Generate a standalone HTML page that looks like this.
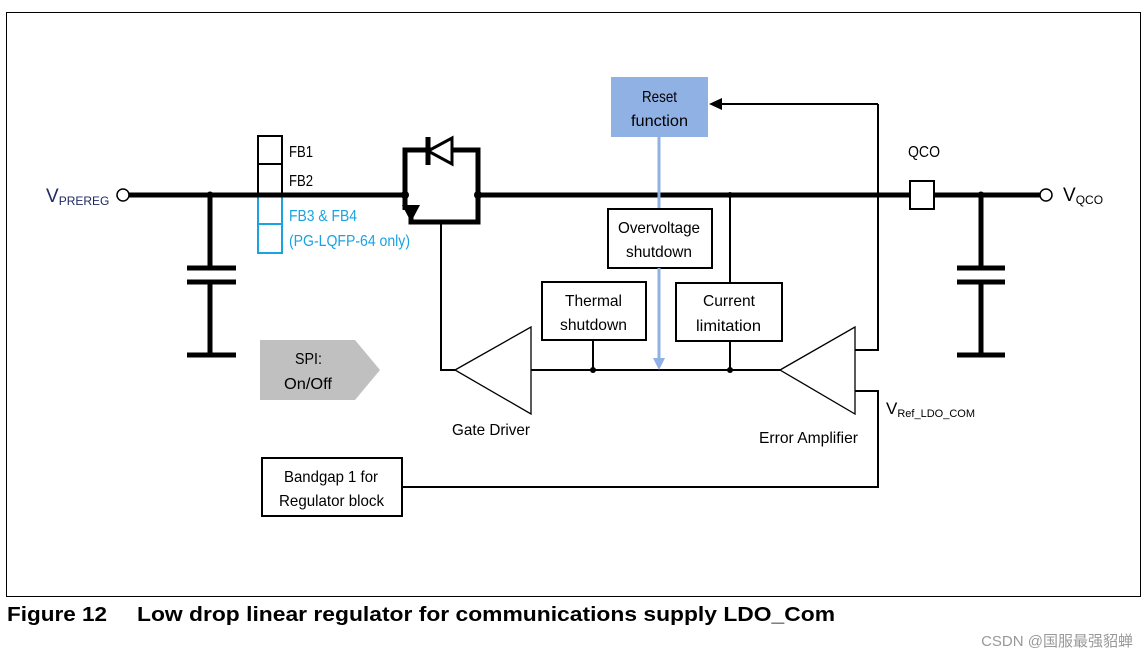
<!DOCTYPE html>
<html><head><meta charset="utf-8"><style>
body{margin:0;background:#fff;}
svg text{font-family:"Liberation Sans",sans-serif;font-size:16px;fill:#000;}
</style></head><body>
<svg width="1148" height="660" viewBox="0 0 1148 660" xmlns="http://www.w3.org/2000/svg">
<rect x="6.5" y="12.5" width="1134" height="584" fill="none" stroke="#000" stroke-width="1"/>
<g stroke="#000" stroke-width="5" fill="none" stroke-linecap="butt">
<line x1="129" y1="195" x2="405" y2="195"/>
<line x1="478" y1="195" x2="910" y2="195"/>
<line x1="934" y1="195" x2="1040" y2="195"/>
<line x1="210" y1="195" x2="210" y2="268"/>
<line x1="187" y1="268" x2="236" y2="268"/>
<line x1="187" y1="282" x2="236" y2="282"/>
<line x1="210" y1="282" x2="210" y2="355"/>
<line x1="187" y1="355" x2="236" y2="355"/>
<line x1="981" y1="195" x2="981" y2="268"/>
<line x1="957" y1="268" x2="1005" y2="268"/>
<line x1="957" y1="282" x2="1005" y2="282"/>
<line x1="981" y1="282" x2="981" y2="355"/>
<line x1="957" y1="355" x2="1005" y2="355"/>
<polyline points="405,195 405,150 478,150 478,195"/>
<polyline points="411,210 411,222 478,222 478,195"/>
<line x1="405" y1="195" x2="405" y2="210"/>
<line x1="428" y1="137" x2="428" y2="165"/>
</g>
<polygon points="402,205 420,205 411,222" fill="#000"/>
<polygon points="428,151 452,138 452,164" fill="#fff" stroke="#000" stroke-width="3"/>
<circle cx="210" cy="195" r="3.5" fill="#000"/>
<circle cx="405" cy="195" r="4" fill="#000"/>
<circle cx="478" cy="195" r="4" fill="#000"/>
<circle cx="981" cy="195" r="3.5" fill="#000"/>
<circle cx="123" cy="195" r="6" fill="#fff" stroke="#000" stroke-width="1.5"/>
<circle cx="1046" cy="195" r="6" fill="#fff" stroke="#000" stroke-width="1.5"/>
<rect x="910" y="181" width="24" height="28" fill="#fff" stroke="#000" stroke-width="2"/>
<rect x="258" y="136" width="24" height="28" fill="#fff" stroke="#000" stroke-width="2"/>
<rect x="258" y="164" width="24" height="30" fill="#fff" stroke="#000" stroke-width="2"/>
<rect x="258" y="196" width="24" height="28" fill="none" stroke="#1aa3e0" stroke-width="2"/>
<rect x="258" y="224" width="24" height="29" fill="none" stroke="#1aa3e0" stroke-width="2"/>
<line x1="255" y1="195" x2="285" y2="195" stroke="#000" stroke-width="5"/>
<g stroke="#000" stroke-width="2" fill="none">
<polyline points="441,222 441,370 455,370"/>
<line x1="531" y1="370" x2="780" y2="370"/>
<line x1="593" y1="340" x2="593" y2="370"/>
<line x1="730" y1="341" x2="730" y2="370"/>
<line x1="730" y1="195" x2="730" y2="283"/>
<line x1="878" y1="195" x2="878" y2="104"/>
<polyline points="855,350 878,350 878,195"/>
<polyline points="878,104 715,104"/>
<polyline points="855,391 878,391 878,487 402,487"/>
</g>
<polygon points="709,104 722,98 722,110" fill="#000"/>
<circle cx="593" cy="370" r="3" fill="#000"/>
<circle cx="730" cy="370" r="3" fill="#000"/>
<circle cx="730" cy="195" r="3" fill="#000"/>
<polygon points="455,370 531,327 531,414" fill="#fff" stroke="#000" stroke-width="1.3"/>
<polygon points="780,370 855,327 855,414" fill="#fff" stroke="#000" stroke-width="1.3"/>
<rect x="611" y="77" width="97" height="60" fill="#8fb1e3"/>
<line x1="659" y1="137" x2="659" y2="360" stroke="#8fb1e3" stroke-width="3"/>
<polygon points="653,358 665,358 659,370" fill="#8fb1e3"/>
<rect x="608" y="209" width="104" height="59" fill="#fff" stroke="#000" stroke-width="2"/>
<rect x="542" y="282" width="104" height="58" fill="#fff" stroke="#000" stroke-width="2"/>
<rect x="676" y="283" width="106" height="58" fill="#fff" stroke="#000" stroke-width="2"/>
<line x1="659" y1="268" x2="659" y2="360" stroke="#8fb1e3" stroke-width="3"/>
<rect x="262" y="458" width="140" height="58" fill="#fff" stroke="#000" stroke-width="2"/>
<polygon points="260,340 355,340 380,370 355,400 260,400" fill="#c0c0c0"/>
<g style="font-size:17px">
<text x="642" y="102" textLength="35" lengthAdjust="spacingAndGlyphs">Reset</text>
<text x="631" y="126" textLength="57" lengthAdjust="spacingAndGlyphs">function</text>
<text x="618" y="233" textLength="82" lengthAdjust="spacingAndGlyphs">Overvoltage</text>
<text x="626" y="257" textLength="66" lengthAdjust="spacingAndGlyphs">shutdown</text>
<text x="565" y="306" textLength="57" lengthAdjust="spacingAndGlyphs">Thermal</text>
<text x="560" y="330" textLength="67" lengthAdjust="spacingAndGlyphs">shutdown</text>
<text x="703" y="306" textLength="52" lengthAdjust="spacingAndGlyphs">Current</text>
<text x="696" y="331" textLength="65" lengthAdjust="spacingAndGlyphs">limitation</text>
<text x="284" y="482" textLength="94" lengthAdjust="spacingAndGlyphs">Bandgap 1 for</text>
<text x="279" y="506" textLength="105" lengthAdjust="spacingAndGlyphs">Regulator block</text>
<text x="295" y="364" textLength="27" lengthAdjust="spacingAndGlyphs">SPI:</text>
<text x="284" y="389" textLength="48" lengthAdjust="spacingAndGlyphs">On/Off</text>
<text x="452" y="435" textLength="78" lengthAdjust="spacingAndGlyphs">Gate Driver</text>
<text x="759" y="443" textLength="99" lengthAdjust="spacingAndGlyphs">Error Amplifier</text>
<text x="289" y="157" textLength="24" lengthAdjust="spacingAndGlyphs">FB1</text>
<text x="289" y="186" textLength="24" lengthAdjust="spacingAndGlyphs">FB2</text>
<text x="289" y="221" textLength="68" lengthAdjust="spacingAndGlyphs" style="fill:#1aa3e0">FB3 &amp; FB4</text>
<text x="289" y="246" textLength="121" lengthAdjust="spacingAndGlyphs" style="fill:#1aa3e0">(PG-LQFP-64 only)</text>
<text x="908" y="157" textLength="32" lengthAdjust="spacingAndGlyphs">QCO</text>
</g>
<text x="46" y="202" style="font-size:19px;fill:#1f2a60">V<tspan style="font-size:12px" dy="3">PREREG</tspan></text>
<text x="1063" y="201" style="font-size:19px">V<tspan style="font-size:12px" dy="3">QCO</tspan></text>
<text x="886" y="414" style="font-size:17px">V<tspan style="font-size:11px" dy="3">Ref_LDO_COM</tspan></text>
<text x="7" y="621" textLength="100" lengthAdjust="spacingAndGlyphs" style="font-weight:bold;font-size:20px">Figure 12</text>
<text x="137" y="621" textLength="698" lengthAdjust="spacingAndGlyphs" style="font-weight:bold;font-size:20px">Low drop linear regulator for communications supply LDO_Com</text>
<text x="1133" y="646" text-anchor="end" style="font-family:'Liberation Sans','Noto Sans CJK SC',sans-serif;font-size:15px;fill:#999">CSDN @国服最强貂蝉</text>
</svg>
</body></html>
